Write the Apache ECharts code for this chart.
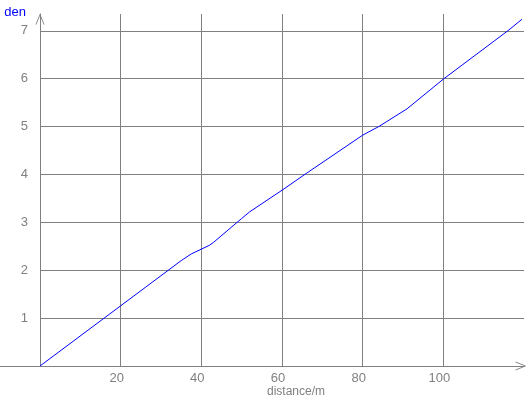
<!DOCTYPE html>
<html>
<head>
<meta charset="utf-8">
<script src="https://cdn.jsdelivr.net/npm/echarts@6/dist/echarts.min.js"></script>
<style>html,body{margin:0;padding:0;background:#fff;}#c{width:528px;height:396px;}</style>
</head>
<body>
<div id="c"></div>
<script>
// Data
const distance = [0, 35, 37.5, 40, 42, 43, 50, 52, 60, 66, 80, 84, 91, 100, 116, 119.5];
const den      = [0, 2.20, 2.34, 2.44, 2.52, 2.58, 3.08, 3.22, 3.67, 4.02, 4.82, 5.0, 5.37, 5.99, 7.0, 7.24];
const xGridValues = [20, 40, 60, 80, 100];
const yGridValues = [1, 2, 3, 4, 5, 6, 7];
const xName = 'distance/m';
const yName = 'den';

const X_MIN = 0, X_MAX = 120, Y_MAX = 7.35;
const gray = '#808080';
const chevron = 'path://M0,12 L5,0 L10,12 L9,12 L5,2.4 L1,12 Z';

const gridLines = [];
xGridValues.forEach(v => gridLines.push([{coord: [v, 0]}, {coord: [v, Y_MAX]}]));
yGridValues.forEach(v => gridLines.push([{coord: [0, v]}, {coord: [X_MAX, v]}]));

const chart = echarts.init(document.getElementById('c'), null, {renderer: 'canvas'});
chart.setOption({
  animation: false,
  backgroundColor: '#ffffff',
  grid: {left: 40, right: 4, top: 14, bottom: 30, containLabel: false, outerBoundsMode: 'none'},
  xAxis: {
    type: 'value', min: X_MIN, max: X_MAX, interval: 20,
    name: xName, nameLocation: 'middle', nameGap: 20, nameMoveOverlap: false,
    nameTextStyle: {color: gray, fontSize: 12, fontFamily: 'Liberation Sans', padding: [0, 0, 0, 28]},
    axisLine: {show: true, onZero: false, symbol: ['none', chevron], symbolSize: [9, 12], symbolOffset: [0, -3],
      lineStyle: {color: gray, width: 1}},
    axisTick: {show: false},
    splitLine: {show: false},
    axisLabel: {color: gray, fontSize: 13, fontFamily: 'Liberation Sans', margin: 6, padding: [0, 8, 0, 0],
      formatter: v => (v > 0 && v < X_MAX) ? String(v) : ''}
  },
  yAxis: {
    type: 'value', min: 0, max: Y_MAX, interval: 1,
    name: yName, nameLocation: 'end', nameGap: 2,
    nameTextStyle: {color: '#0000ff', fontSize: 13, fontFamily: 'Liberation Sans', align: 'right', verticalAlign: 'middle', padding: [0, 14, 0, 0]},
    axisLine: {show: true, onZero: false, symbol: ['none', chevron], symbolSize: [9, 12], symbolOffset: [0, -5],
      lineStyle: {color: gray, width: 1}},
    axisTick: {show: false},
    splitLine: {show: false},
    axisLabel: {color: gray, fontSize: 13, fontFamily: 'Liberation Sans', margin: 12, showMaxLabel: false,
      formatter: v => (v > 0 && Math.abs(v - Math.round(v)) < 1e-9) ? String(Math.round(v)) : ''}
  },
  series: [{
    type: 'line',
    data: distance.map((d, i) => [d, den[i]]),
    showSymbol: false,
    symbol: 'none',
    lineStyle: {color: '#0000ff', width: 1},
    z: 5,
    markLine: {
      silent: true, symbol: ['none', 'none'], label: {show: false},
      lineStyle: {color: gray, type: 'solid', width: 1},
      emphasis: {disabled: true},
      animation: false,
      data: gridLines,
      z: 1
    }
  }]
});
// extend the x axis line to the left edge of the canvas (as in the reference)
const origin = chart.convertToPixel({gridIndex: 0}, [0, 0]);
chart.setOption({
  graphic: [{
    type: 'line', silent: true, z: 10,
    shape: {x1: 0, y1: Math.round(origin[1]) + 0.5, x2: Math.round(origin[0]), y2: Math.round(origin[1]) + 0.5},
    style: {stroke: gray, lineWidth: 1}
  }]
});
</script>
</body>
</html>
